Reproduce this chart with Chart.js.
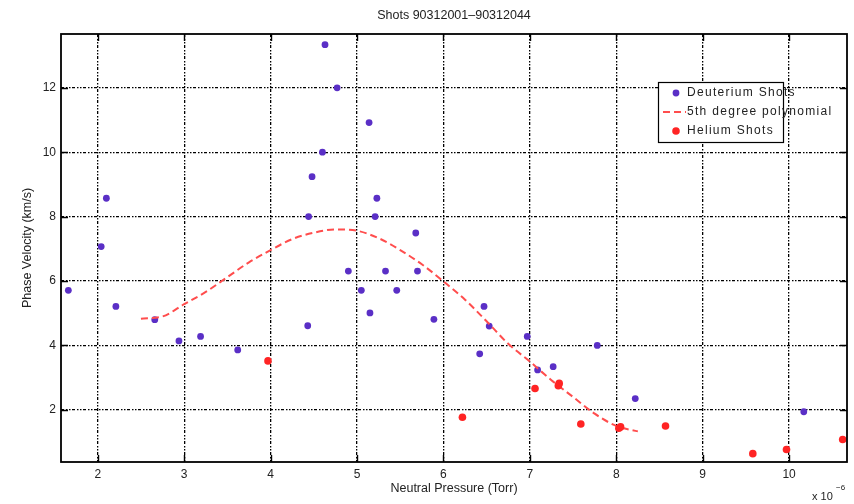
<!DOCTYPE html>
<html><head><meta charset="utf-8">
<script src="https://cdn.jsdelivr.net/npm/chart.js@4.4.0/dist/chart.umd.min.js"></script>
<style>html,body{margin:0;padding:0;background:#fff;} canvas{display:block;}</style>
</head><body>
<canvas id="c" width="854" height="504"></canvas>
<script>
// ---- data ----
const deuteriumX = [1.66,2.04,2.10,2.21,2.66,2.94,3.19,3.62,4.43,4.44,4.48,4.60,4.63,4.77,4.90,5.05,5.15,5.14,5.21,5.23,5.33,5.46,5.68,5.70,5.89,6.42,6.47,6.53,6.97,7.09,7.27,7.78,8.22,10.17];
const deuteriumY = [5.71,7.07,8.57,5.21,4.80,4.14,4.28,3.86,4.61,8.00,9.24,10.0,13.34,12.0,6.31,5.71,5.01,10.92,8.00,8.57,6.31,5.71,7.49,6.31,4.81,3.74,5.21,4.60,4.28,3.24,3.34,4.00,2.35,1.94];
const heliumX = [3.97,6.22,7.06,7.34,7.33,7.59,8.03,8.05,8.57,9.58,9.97,10.62];
const heliumY = [3.52,1.77,2.66,2.82,2.75,1.56,1.43,1.47,1.50,0.64,0.77,1.08];
const polyX = [2.50,2.75,3.00,3.25,3.50,3.75,4.00,4.25,4.50,4.75,5.00,5.25,5.50,5.75,6.00,6.25,6.50,6.75,7.00,7.25,7.50,7.75,8.00,8.25];
const polyY = [4.83,4.90,5.28,5.66,6.12,6.58,6.96,7.30,7.50,7.60,7.56,7.33,6.96,6.52,5.99,5.42,4.75,4.05,3.50,2.92,2.40,1.88,1.50,1.33];
const xTicks = [2,3,4,5,6,7,8,9,10];
const yTicks = [2,4,6,8,10,12];
const seriesNames = ['Deuterium Shots','5th degree polynomial','Helium Shots'];
const titleText = 'Shots 90312001\u201390312044';
const xLabel = 'Neutral Pressure (Torr)';
const yLabel = 'Phase Velocity (km/s)';
const xExponent = '\u22126';

const FONT = '"Liberation Sans", Arial, sans-serif';
const PURPLE = '#5a2fc6';
const RED = '#ff2424';
const DASHRED = '#ff4d4d';

const pts = (xs, ys) => xs.map((x, i) => ({x, y: ys[i]}));

const decor = {
  id: 'decor',
  beforeDraw(chart) {
    const ctx = chart.ctx;
    ctx.save();
    ctx.fillStyle = '#fff';
    ctx.fillRect(0, 0, chart.width, chart.height);
    ctx.restore();
  },
  afterDraw(chart) {
    const ctx = chart.ctx;
    const a = chart.chartArea;
    const xs = chart.scales.x, ys = chart.scales.y;
    ctx.save();
    // inner tick marks on all four sides
    ctx.strokeStyle = '#000';
    ctx.lineWidth = 1.4;
    ctx.setLineDash([]);
    const tl = 7;
    xTicks.forEach(v => {
      const px = Math.round(xs.getPixelForValue(v)) + 0.5;
      ctx.beginPath();
      ctx.moveTo(px, a.bottom); ctx.lineTo(px, a.bottom - tl);
      ctx.moveTo(px, a.top); ctx.lineTo(px, a.top + tl);
      ctx.stroke();
    });
    yTicks.forEach(v => {
      const py = Math.round(ys.getPixelForValue(v)) + 0.5;
      ctx.beginPath();
      ctx.moveTo(a.left, py); ctx.lineTo(a.left + tl, py);
      ctx.moveTo(a.right, py); ctx.lineTo(a.right - tl, py);
      ctx.stroke();
    });
    // box
    ctx.lineWidth = 1.8;
    ctx.strokeRect(a.left, a.top, a.right - a.left, a.bottom - a.top);

    // legend
    const lx = 658, ly = 82, lw = 125, lh = 60;
    ctx.fillStyle = '#fff';
    ctx.fillRect(lx, ly, lw, lh);
    ctx.lineWidth = 1.2;
    ctx.strokeStyle = '#000';
    ctx.strokeRect(lx + 0.5, ly + 0.5, lw, lh);
    const rows = [93, 112, 131];
    ctx.font = '12px ' + FONT;
    try { ctx.letterSpacing = '1.3px'; } catch (e) {}
    ctx.textBaseline = 'middle';
    ctx.textAlign = 'left';
    ctx.fillStyle = '#222';
    seriesNames.forEach((n, i) => ctx.fillText(n, 687, rows[i]));
    try { ctx.letterSpacing = '0px'; } catch (e) {}
    ctx.fillStyle = PURPLE;
    ctx.beginPath(); ctx.arc(676, rows[0], 3.4, 0, Math.PI * 2); ctx.fill();
    ctx.fillStyle = RED;
    ctx.beginPath(); ctx.arc(676, rows[2], 3.8, 0, Math.PI * 2); ctx.fill();
    ctx.strokeStyle = DASHRED;
    ctx.lineWidth = 2;
    ctx.setLineDash([7, 4]);
    ctx.beginPath(); ctx.moveTo(663, rows[1]); ctx.lineTo(686, rows[1]); ctx.stroke();
    ctx.setLineDash([]);

    // title and axis labels
    const cx = (a.left + a.right) / 2;
    ctx.fillStyle = '#222';
    ctx.textAlign = 'center';
    ctx.textBaseline = 'middle';
    ctx.font = '12.5px ' + FONT;
    ctx.fillText(titleText, cx, 16);
    ctx.font = '12.5px ' + FONT;
    ctx.fillText(xLabel, cx, 489);
    ctx.save();
    ctx.translate(28, (a.top + a.bottom) / 2);
    ctx.rotate(-Math.PI / 2);
    ctx.fillText(yLabel, 0, 0);
    ctx.restore();
    // exponent
    ctx.textAlign = 'left';
    ctx.font = '11px ' + FONT;
    ctx.fillText('x 10', 812, 497);
    ctx.font = '8px ' + FONT;
    ctx.fillText(xExponent, 836, 488);
    ctx.restore();
  }
};

const gridDash = [3, 2, 1.5, 1.5, 1.5, 1.5];

new Chart(document.getElementById('c'), {
  type: 'scatter',
  data: {
    datasets: [
      { label: seriesNames[0], data: pts(deuteriumX, deuteriumY), backgroundColor: PURPLE, borderColor: PURPLE,
        pointRadius: 3.4, pointBorderWidth: 0, pointStyle: 'circle', order: 2 },
      { label: seriesNames[1], data: pts(polyX, polyY), showLine: true, borderColor: DASHRED, borderWidth: 2,
        borderDash: [7, 4], pointRadius: 0, fill: false, tension: 0.4, cubicInterpolationMode: 'monotone', order: 1 },
      { label: seriesNames[2], data: pts(heliumX, heliumY), backgroundColor: RED, borderColor: RED,
        pointRadius: 3.8, pointBorderWidth: 0, pointStyle: 'circle', order: 0 }
    ]
  },
  options: {
    responsive: false,
    animation: false,
    events: [],
    layout: { padding: { top: 34, right: 7, bottom: 0, left: 0 } },
    plugins: { legend: { display: false }, tooltip: { enabled: false }, title: { display: false } },
    scales: {
      x: {
        type: 'linear', min: 1.575, max: 10.67,
        afterBuildTicks: s => { s.ticks = xTicks.map(v => ({ value: v })); },
        afterFit: s => { s.height = 42; },
        ticks: { color: '#222', font: { family: FONT, size: 12 }, padding: 5, autoSkip: false, maxRotation: 0 },
        grid: { color: '#000', lineWidth: 1.3, drawTicks: false },
        border: { display: false, dash: gridDash }
      },
      y: {
        type: 'linear', min: 0.38, max: 13.67,
        afterBuildTicks: s => { s.ticks = yTicks.map(v => ({ value: v })); },
        afterFit: s => { s.width = 61; },
        ticks: { color: '#222', font: { family: FONT, size: 12 }, padding: 5 },
        grid: { color: '#000', lineWidth: 1.3, drawTicks: false },
        border: { display: false, dash: gridDash }
      }
    }
  },
  plugins: [decor]
});
</script>
</body></html>
